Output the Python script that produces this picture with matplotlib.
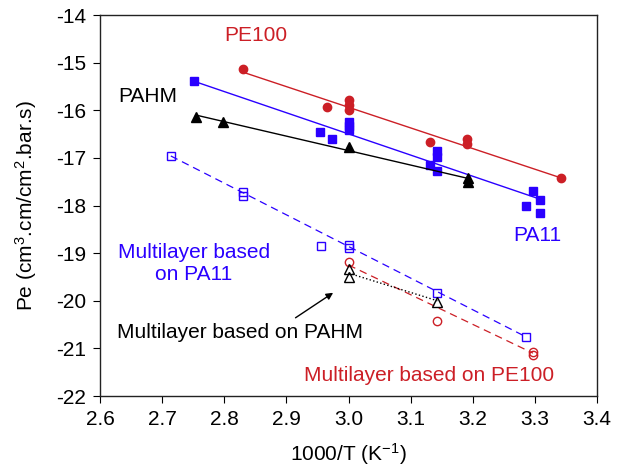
import matplotlib
matplotlib.use("Agg")
import matplotlib.pyplot as plt
import numpy as np

plt.rcParams['font.family'] = ['Liberation Sans', 'DejaVu Sans']
plt.rcParams['mathtext.fontset'] = 'custom'
plt.rcParams['mathtext.rm'] = 'Liberation Sans'
plt.rcParams['mathtext.it'] = 'Liberation Sans:italic'
plt.rcParams['mathtext.bf'] = 'Liberation Sans:bold'

RED = '#cc1f26'
BLUE = '#2a00ff'

# PE100 (filled circles)
pe_x = [2.83, 2.966, 3.0, 3.0, 3.0, 3.131, 3.191, 3.191, 3.342]
pe_y = [-15.13, -15.93, -15.78, -15.88, -16.0, -16.67, -16.6, -16.7, -17.42]
pe_fit_x = [2.83, 3.342]
pe_fit_y = [-15.2, -17.42]

# PA11 (filled squares)
pa_x = [2.751, 2.954, 2.974, 3.0, 3.0, 3.0, 3.131, 3.143, 3.143, 3.143, 3.297, 3.309, 3.286, 3.309]
pa_y = [-15.39, -16.46, -16.6, -16.25, -16.33, -16.42, -17.15, -16.85, -16.98, -17.28, -17.7, -17.89, -18.01, -18.16]
pa_fit_x = [2.751, 3.309]
pa_fit_y = [-15.39, -17.87]

# PAHM (filled triangles)
ph_x = [2.754, 2.798, 3.0, 3.192, 3.192]
ph_y = [-16.14, -16.25, -16.77, -17.42, -17.5]
ph_fit_x = [2.754, 3.192]
ph_fit_y = [-16.1, -17.43]

# Multilayer PA11 (open squares)
mpa_x = [2.714, 2.83, 2.83, 2.956, 3.0, 3.0, 3.143, 3.286]
mpa_y = [-16.96, -17.72, -17.8, -18.85, -18.82, -18.9, -19.84, -20.76]
mpa_fit_x = [2.714, 3.286]
mpa_fit_y = [-16.96, -20.76]

# Multilayer PE100 (open circles)
mpe_x = [3.0, 3.143, 3.297, 3.297]
mpe_y = [-19.19, -20.43, -21.08, -21.14]
mpe_fit_x = [3.0, 3.297]
mpe_fit_y = [-19.25, -21.1]

# Multilayer PAHM (open triangles)
mph_x = [3.0, 3.0, 3.143]
mph_y = [-19.34, -19.5, -20.03]
mph_fit_x = [3.0, 3.143]
mph_fit_y = [-19.42, -20.0]

xticks = [2.6, 2.7, 2.8, 2.9, 3.0, 3.1, 3.2, 3.3, 3.4]
yticks = [-14, -15, -16, -17, -18, -19, -20, -21, -22]

fig = plt.figure(figsize=(6.24, 4.69), dpi=100)
ax = fig.add_axes([100/624, 1-396/469, 497/624, 381/469])

FS = 15
ms = 6

ax.plot(pe_fit_x, pe_fit_y, '-', color=RED, lw=1)
ax.plot(pe_x, pe_y, 'o', color=RED, ms=ms, mec=RED)
ax.plot(pa_fit_x, pa_fit_y, '-', color=BLUE, lw=1)
ax.plot(pa_x, pa_y, 's', color=BLUE, ms=ms, mec=BLUE)
ax.plot(ph_fit_x, ph_fit_y, '-', color='black', lw=1)
ax.plot(ph_x, ph_y, '^', color='black', ms=ms+1)

ax.plot(mpa_fit_x, mpa_fit_y, '--', color=BLUE, lw=0.9, dashes=(6, 4))
ax.plot(mpa_x, mpa_y, 's', mfc='none', mec=BLUE, ms=ms, mew=1)
ax.plot(mpe_fit_x, mpe_fit_y, '--', color=RED, lw=0.9, dashes=(6, 4))
ax.plot(mpe_x, mpe_y, 'o', mfc='none', mec=RED, ms=ms, mew=1)
ax.plot(mph_fit_x, mph_fit_y, ':', color='black', lw=1)
ax.plot(mph_x, mph_y, '^', mfc='none', mec='black', ms=ms+1, mew=1)

ax.set_xlim(2.6, 3.4)
ax.set_ylim(-22, -14)
ax.set_xticks(xticks)
ax.set_xticklabels([f'{v:.1f}' for v in xticks])
ax.set_yticks(yticks)
ax.set_yticklabels([str(v) for v in yticks])
ax.tick_params(direction='out', length=5, labelsize=FS, top=False, right=False, pad=5)
for s in ax.spines.values():
    s.set_linewidth(1.0)
    s.set_color('#222222')

ax.set_xlabel('1000/T (K$^{\\mathrm{-1}}$)', fontsize=FS, labelpad=9)
ax.set_ylabel('Pe (cm$^{\\mathrm{3}}$.cm/cm$^{\\mathrm{2}}$.bar.s)', fontsize=FS, labelpad=12)

ax.text(2.85, -14.42, 'PE100', color=RED, fontsize=FS, ha='center', va='center')
ax.text(2.677, -15.72, 'PAHM', color='black', fontsize=FS, ha='center', va='center')
ax.text(3.304, -18.62, 'PA11', color=BLUE, fontsize=FS, ha='center', va='center')
ax.text(2.751, -19.21, 'Multilayer based\non PA11', color=BLUE, fontsize=FS,
        ha='center', va='center', linespacing=1.2)
ax.annotate('', xy=(2.979, -19.8), xytext=(2.911, -20.39),
            arrowprops=dict(arrowstyle='-|>', color='black', lw=1, mutation_scale=10))
ax.text(2.627, -20.66, 'Multilayer based on PAHM', color='black', fontsize=FS,
        ha='left', va='center')
ax.text(2.929, -21.56, 'Multilayer based on PE100', color=RED, fontsize=FS,
        ha='left', va='center')

fig.savefig('out.png', dpi=100)
